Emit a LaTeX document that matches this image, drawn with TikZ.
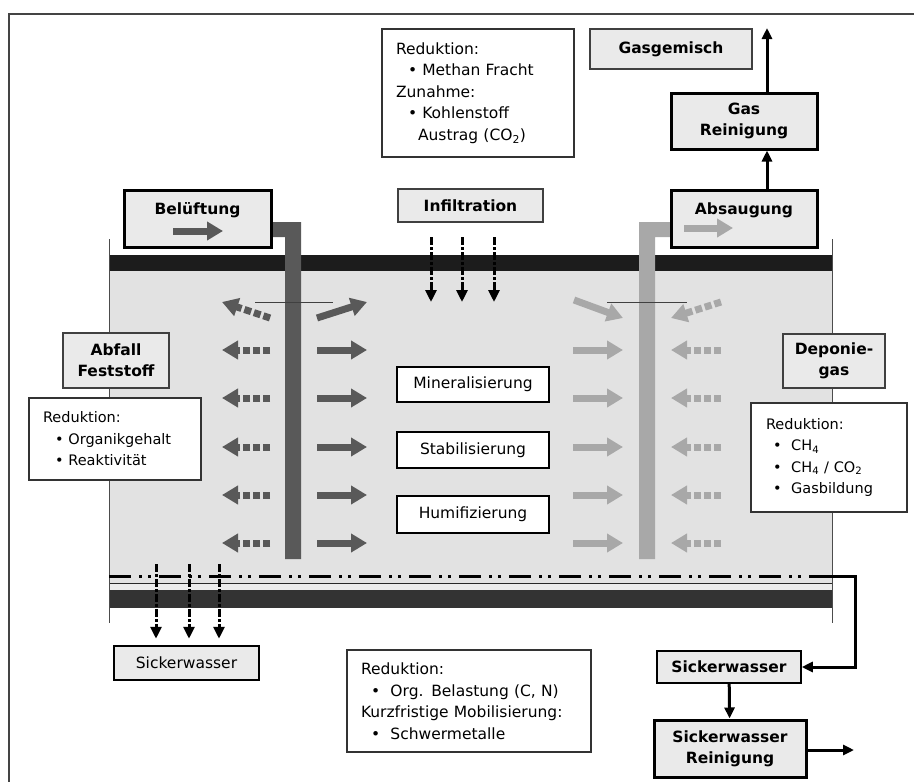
\documentclass[tikz,border=0pt]{standalone}
\usepackage{fontspec}
\setmainfont{DejaVu Sans}
\usetikzlibrary{arrows.meta}

\definecolor{boxgray}{HTML}{EAEAEA}
\definecolor{bodygray}{HTML}{E2E2E2}
\definecolor{pipedark}{HTML}{595959}
\definecolor{pipelight}{HTML}{A8A8A8}
\definecolor{bandtop}{HTML}{1C1C1C}
\definecolor{bandbot}{HTML}{333333}
\definecolor{framegray}{HTML}{444444}

\tikzset{
  boxsize/.style 2 args={minimum width=#1pt, minimum height=#2pt},
  lbl/.style={font=\fontsize{15.5}{21}\selectfont\bfseries, align=center, inner sep=0pt},
  graybox/.style={lbl, draw=black!75, line width=1.5pt, fill=boxgray},
  thickbox/.style={lbl, draw=black, line width=3pt, fill=boxgray},
  midbox/.style={draw=black, line width=1.5pt, fill=white, inner sep=0pt, font=\fontsize{15.5}{21}\selectfont},
  infobox/.style={draw=black!80, line width=1.5pt, fill=white, align=left, inner sep=0pt, font=\fontsize{15.5}{21.5}\selectfont},
  flow/.style={line width=3pt, -{Triangle[length=11pt,width=10pt]}},
  drip/.style={line width=3pt, dash pattern=on 8pt off 2pt on 3pt off 2pt, -{Triangle[length=12pt,width=11pt]}},
  gasarrow/.style={line width=7pt, -{Triangle[length=16pt,width=18pt]}},
  gasdash/.style={gasarrow, dash pattern=on 7pt off 3pt},
}
\newcommand{\bul}[1][12pt]{\hspace*{#1}\textbullet\ }

\begin{document}
\begin{tikzpicture}[x=1pt, y=-1pt]
\useasboundingbox (0,0) rectangle (914,782);

% frame
\draw[framegray, line width=2pt] (914,14) -- (9,14) -- (9,782);

% landfill body
\fill[bodygray] (109,271) rectangle (832,590);
\fill[white!92!black] (109,584) rectangle (832,590);
\draw[black!85, line width=1pt] (109,583) -- (832,583);
\fill[bandtop] (109,255) rectangle (832,271);
\fill[bandbot] (109,590) rectangle (832,608);
\draw[black!70, line width=1pt] (109,239) -- (109,623);
\draw[black!70, line width=1pt] (832,239) -- (832,623);
\draw[line width=3pt, dash pattern=on 22pt off 8pt on 3pt off 6pt on 3pt off 8pt] (109,576) -- (832,576);
\coordinate (drain) at (831,576);

% pipes
\fill[pipedark] (271,222) -- (301,222) -- (301,559) -- (285,559) -- (285,237) -- (271,237) -- cycle;
\fill[pipelight] (670,222) -- (639,222) -- (639,559) -- (655,559) -- (655,237) -- (670,237) -- cycle;

% gas movement
\foreach \y in {350,398,447,495,543} {
  \draw[gasdash, pipedark] (270,\y) -- (222,\y);
  \draw[gasarrow, pipedark] (317,\y) -- (367,\y);
  \draw[gasarrow, pipelight] (573,\y) -- (623,\y);
  \draw[gasdash, pipelight] (721,\y) -- (671,\y);
}
\draw[gasdash, pipedark] (270,318) -- (222,302);
\draw[gasarrow, pipedark] (317,318) -- (367,302);
\draw[gasarrow, pipelight] (574,300) -- (623,318);
\draw[gasdash, pipelight] (721,302) -- (671,318);
\draw[black!75, line width=1pt] (255,302) -- (333,302);
\draw[black!75, line width=1pt] (607,302) -- (687,302);

% boxes at the top
\node[infobox, boxsize={192}{128}, text width=164pt] (topinfo) at (478,93)
  {Reduktion:\\\bul Methan Fracht\\Zunahme:\\\bul Kohlenstoff\\\hspace*{22pt}Austrag (CO\textsubscript{2})};
\node[graybox, boxsize={162}{40}] (gasmix) at (671,49) {Gasgemisch};
\node[thickbox, boxsize={146}{56}] (gasrein) at (744,121) {Gas\\Reinigung};
\node[thickbox, boxsize={146}{57}] (absaug) at (744,218.5) {};
\node[lbl] (absaugtxt) at (744,210) {Absaugung};
\node[thickbox, boxsize={147}{57}] (belueft) at (197.5,218.5) {};
\node[lbl] (beluefttxt) at (197.5,210) {Belüftung};
\node[graybox, boxsize={145}{33}] (infil) at (470.5,205.5) {Infiltration};
\draw[gasarrow, pipedark] (173,231) -- (223,231);
\draw[gasarrow, pipelight] (684,228) -- (733,228);

\coordinate (gasout) at (767,28);
\draw[flow] (absaug.north -| gasout) -- (gasrein.south -| gasout);
\draw[flow] (gasrein.north -| gasout) -- (gasout);

\foreach \x in {431,462,494}
  \draw[drip] (\x,237) -- (\x,302);

% side boxes
\node[graybox, boxsize={106}{55}] (abfall) at (116,360.5) {Abfall\\Feststoff};
\node[infobox, boxsize={172}{82}, text width=144pt, font=\fontsize{14.5}{21.5}\selectfont] (leftinfo) at (115,439)
  {Reduktion:\\\bul Organikgehalt\\\bul Reaktivität};
\node[graybox, boxsize={102}{54}] (deponie) at (834,361) {Deponie-\\gas};
\node[infobox, boxsize={156}{109}, text width=126pt, font=\fontsize{14.5}{21.5}\selectfont] (rightinfo) at (829,457.5)
  {Reduktion:\\\bul[7pt] CH\textsubscript{4}\\\bul[7pt] CH\textsubscript{4} / CO\textsubscript{2}\\\bul[7pt] Gasbildung};

% processes
\node[midbox, boxsize={152}{35}] (mineral) at (473,384.5) {Mineralisierung};
\node[midbox, boxsize={152}{36}] (stabil) at (473,450) {Stabilisierung};
\node[midbox, boxsize={152}{37}] (humif) at (473,514.5) {Humifizierung};

% bottom
\node[midbox, fill=boxgray, line width=2.5pt, boxsize={145}{34}] (sickerL) at (186.5,663) {Sickerwasser};
\foreach \x in {156,189,219}
  \draw[drip] (\x,564) -- ([yshift=6pt]sickerL.north -| \x,0);
\node[infobox, boxsize={244}{102}, text width=216pt] (botinfo) at (469,701)
  {Reduktion:\\\bul[10pt] Org. Belastung (C, N)\\Kurzfristige Mobilisierung:\\\bul[10pt] Schwermetalle};
\node[graybox, draw=black, boxsize={144}{32}] (sickerR) at (729,667) {Sickerwasser};
\node[thickbox, boxsize={152}{57}] (sickrein) at (730,748.5) {Sickerwasser\\Reinigung};
\coordinate (outflow) at (854,750);

\draw[flow] (drain) -- (855,576) |- (sickerR.east);
\draw[flow] (sickerR) -- (sickrein);
\draw[flow] (sickrein.east |- outflow) -- (outflow);

\end{tikzpicture}
\end{document}
